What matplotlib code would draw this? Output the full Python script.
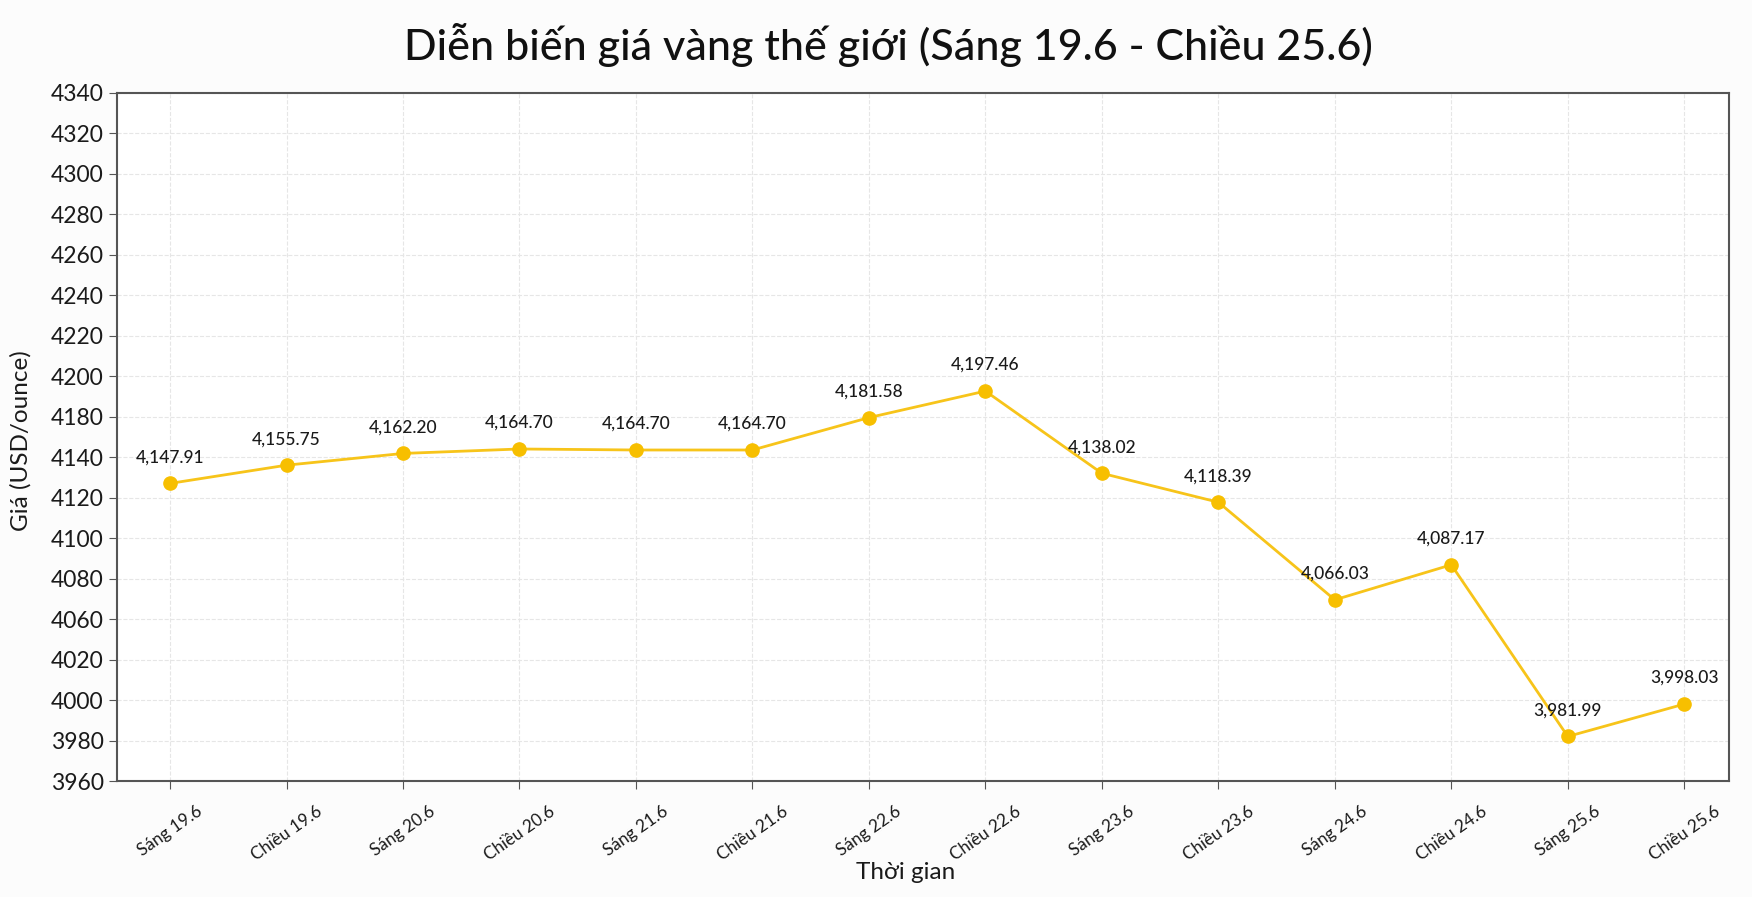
import numpy as np
import matplotlib
matplotlib.use('Agg')
import matplotlib.pyplot as plt

plt.rcParams['font.family'] = ['Lato', 'DejaVu Sans']

# Data
labels = ['Sáng 19.6', 'Chiều 19.6', 'Sáng 20.6', 'Chiều 20.6', 'Sáng 21.6', 'Chiều 21.6',
          'Sáng 22.6', 'Chiều 22.6', 'Sáng 23.6', 'Chiều 23.6', 'Sáng 24.6', 'Chiều 24.6',
          'Sáng 25.6', 'Chiều 25.6']
# where the points sit, read against the printed tick labels
price_plot = [4127, 4136, 4143.6, 4148, 4147, 4147, 4179, 4192.6, 4132, 4117.7,
              4069.5, 4086.8, 3982, 3998]
# values printed above the points
price_text = [4147.91, 4155.75, 4162.20, 4164.70, 4164.70, 4164.70, 4181.58, 4197.46,
              4138.02, 4118.39, 4066.03, 4087.17, 3981.99, 3998.03]
# tick labels as printed (evenly spaced on the axis)
ytick_vals = [3960, 3980, 4000, 4020, 4060, 4080, 4100, 4120, 4140, 4180, 4200,
              4220, 4240, 4260, 4280, 4300, 4320, 4340]

slots = np.arange(len(ytick_vals))


def forward(v):
    return np.interp(v, ytick_vals, slots)


def inverse(s):
    return np.interp(s, slots, ytick_vals)


fig = plt.figure(figsize=(17.52, 8.97), dpi=100)
fig.patch.set_facecolor('#fcfcfc')
ax = fig.add_axes([0.0668, 0.1293, 0.9202, 0.7674])
ax.set_facecolor('#ffffff')
ax.set_yscale('function', functions=(forward, inverse))

x = np.arange(len(labels))
ax.plot(x, price_plot, color='#f7c41a', linewidth=2, marker='o', markersize=9.5,
        markerfacecolor='#f7bf00', markeredgecolor='#f7bf00', zorder=3)

for xi, yp, yt in zip(x, price_plot, price_text):
    ax.annotate(f'{yt:,.2f}', (xi, yp), xytext=(0, 13), textcoords='offset points',
                ha='center', va='bottom', fontsize=12.5, fontweight='medium', color='#1a1a1a')

ax.set_xlim(-0.455, 13.386)
ax.set_ylim(3960, 4340)
ax.set_yticks(ytick_vals)
ax.set_yticklabels([str(v) for v in ytick_vals])
ax.yaxis.set_minor_locator(matplotlib.ticker.NullLocator())
ax.set_xticks(x)
ax.set_xticklabels(labels, rotation=35, ha='center', fontsize=12.3)
ax.tick_params(axis='y', labelsize=16.5, length=6, color='#555555', labelcolor='#1a1a1a')
ax.tick_params(axis='x', length=6, color='#555555', labelcolor='#1a1a1a', pad=10)

ax.grid(True, color='#e6e6e6', linestyle='--', linewidth=0.8)
ax.set_axisbelow(True)
for s in ax.spines.values():
    s.set_color('#555555')
    s.set_linewidth(1.5)

ax.set_xlabel('Thời gian', fontsize=17.5, color='#1a1a1a', va='center')
ax.set_ylabel('Giá (USD/ounce)', fontsize=17.5, color='#1a1a1a', va='center')
ax.xaxis.set_label_coords(0.489, -0.1336)
ax.yaxis.set_label_coords(-0.0596, 0.494)
fig.text(0.507, 0.95, 'Diễn biến giá vàng thế giới (Sáng 19.6 - Chiều 25.6)',
         ha='center', va='center', fontsize=31, fontweight='medium', color='#111111')

fig.savefig('out.png', dpi=100, facecolor=fig.get_facecolor())
